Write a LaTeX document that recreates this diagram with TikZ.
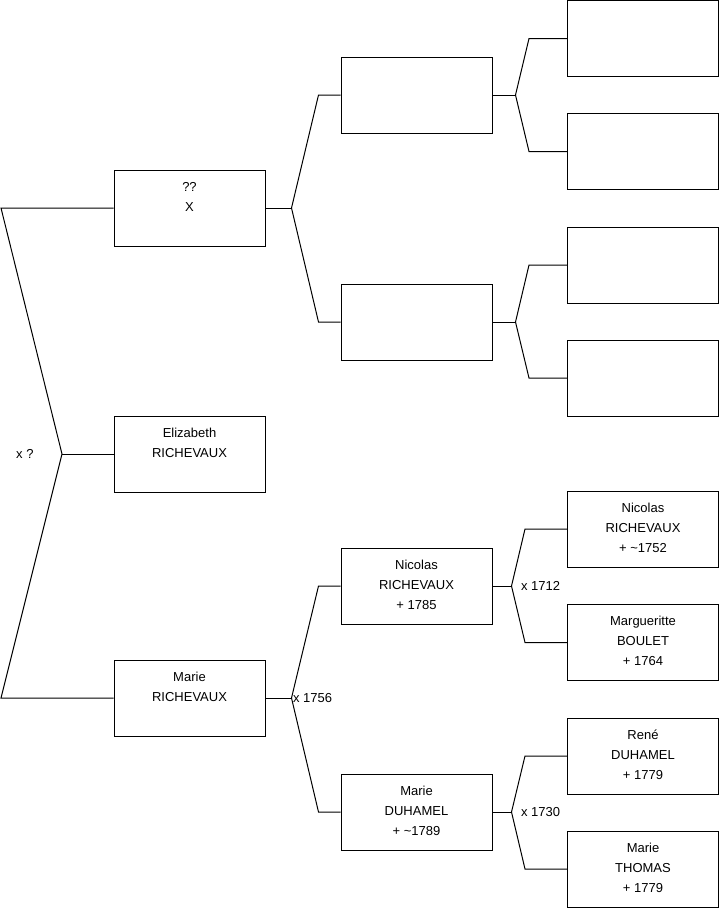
\documentclass[tikz,border=0pt]{standalone}
\usepackage{fontspec}
\setmainfont{Liberation Sans}
\usetikzlibrary{positioning}
\tikzset{
  person/.style={draw, minimum width=151pt, minimum height=76pt, inner sep=0pt},
  names/.style={align=center, inner sep=0pt, font=\fontsize{13}{20}\selectfont},
  wedding/.style={inner sep=0pt, font=\fontsize{13}{20}\selectfont},
}
\begin{document}
\begin{tikzpicture}[x=1pt, y=-1pt, line width=1pt]
  \useasboundingbox (0,0) rectangle (719,908);
  % boxes, one column per generation
  \foreach \n/\y in {p1/208, p2/454, p3/698}
    \node[person] (\n) at (189.5,\y) {};
  \foreach \n/\y in {q1/95, q2/322, q3/586, q4/812}
    \node[person] (\n) at (416.5,\y) {};
  \foreach \n/\y in {r1/38.5, r2/151.5, r3/265, r4/378, r5/529, r6/642.5, r7/756, r8/869}
    \node[person] (\n) at (643,\y) {};
  % names, set at the top of each box
  \foreach \n/\t in {p1/{??\\X}, p2/{Elizabeth\\RICHEVAUX}, p3/{Marie\\RICHEVAUX},
      q3/{Nicolas\\RICHEVAUX\\+ 1785}, q4/{Marie\\DUHAMEL\\+ \textasciitilde1789},
      r5/{Nicolas\\RICHEVAUX\\+ \textasciitilde1752}, r6/{Margueritte\\BOULET\\+ 1764},
      r7/{René\\DUHAMEL\\+ 1779}, r8/{Marie\\THOMAS\\+ 1779}}
    \node[names, below=12pt of \n.north] (t\n) {\t};
  % left bracket
  \coordinate (j0) at (62,454);
  \coordinate (e1) at (1,208);
  \coordinate (e2) at (1,698);
  \draw (p1.west) -- (e1) -- (j0) -- (e2) -- (p3.west);
  \draw (j0) -- (p2.west);
  \node[wedding, anchor=east] (w0) at ([xshift=-28pt]j0) {x ?};
  % parents of each box
  \foreach \p/\a/\b/\d/\g in {p1/q1/q2/26/22, p3/q3/q4/26/22,
      q1/r1/r2/23/38, q2/r3/r4/23/38, q3/r5/r6/19/42, q4/r7/r8/19/42} {
    \draw (\p.east) -- ++(\d,0) coordinate (j\p);
    \draw (\a.west) -- ++(-\g,0) -- (j\p) -- ([xshift=-\g pt]\b.west) -- (\b.west);
  }
  \node[wedding, anchor=west] (w1) at ([xshift=1pt]jp3) {x 1756};
  \node[wedding, anchor=west] (w2) at ([xshift=9pt]jq3) {x 1712};
  \node[wedding, anchor=west] (w3) at ([xshift=9pt]jq4) {x 1730};
\end{tikzpicture}
\end{document}
